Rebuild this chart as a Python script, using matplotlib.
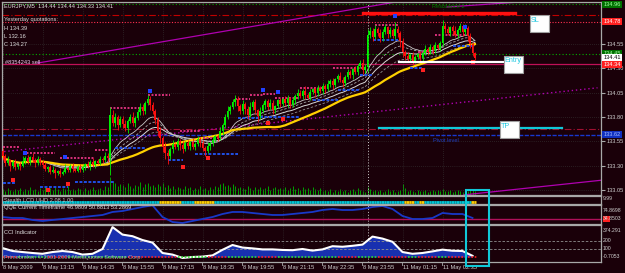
import matplotlib
matplotlib.use('Agg')
import matplotlib.pyplot as plt
import matplotlib.transforms as mtransforms
from matplotlib.patches import Rectangle
from matplotlib.lines import Line2D
import numpy as np
import pandas as pd

W, H = 625, 273
BG = '#1a0009'
BULL = '#00f000'
BEAR = '#ff1010'
FONT = 'Liberation Sans'
FS = 4.1

# EURJPY M5 closes, one per bar (8 May 2009 11:55 -> 11 May 02:45)
closes = [
    133.40, 133.33, 133.36, 133.30, 133.34, 133.29, 133.32, 133.30, 133.35, 133.38, 133.34, 133.39, 133.36, 133.33, 133.37, 133.34,
    133.31, 133.27, 133.29, 133.24, 133.26, 133.22, 133.25, 133.21, 133.24, 133.28, 133.26, 133.30, 133.27, 133.25, 133.29, 133.26,
    133.29, 133.32, 133.30, 133.34, 133.31, 133.35, 133.33, 133.37, 133.36, 133.40, 133.38, 133.82, 133.74, 133.80, 133.72, 133.78,
    133.73, 133.69, 133.76, 133.80, 133.74, 133.79, 133.85, 133.90, 133.86, 133.94, 133.98, 133.92, 133.86, 133.77, 133.66, 133.58,
    133.49, 133.43, 133.40, 133.47, 133.52, 133.49, 133.55, 133.51, 133.47, 133.53, 133.50, 133.54, 133.49, 133.52, 133.57, 133.53,
    133.48, 133.45, 133.50, 133.53, 133.56, 133.60, 133.58, 133.66, 133.72, 133.80, 133.86, 133.90, 133.95, 133.99, 133.91, 133.86,
    133.93, 133.88, 133.82, 133.90, 133.95, 133.87, 133.81, 133.86, 133.92, 133.96, 133.90, 133.94, 133.87, 133.91, 133.97, 133.93,
    133.98, 133.94, 134.00, 133.92, 133.97, 134.02, 134.05, 134.02, 134.07, 134.03, 134.00, 134.06, 134.09, 134.05, 134.10, 134.07,
    134.12, 134.09, 134.14, 134.17, 134.13, 134.19, 134.22, 134.18, 134.15, 134.21, 134.26, 134.23, 134.29, 134.26, 134.32, 134.35,
    134.28, 134.31, 134.64, 134.68, 134.62, 134.70, 134.66, 134.61, 134.67, 134.72, 134.65, 134.69, 134.63, 134.70, 134.66, 134.58,
    134.47, 134.43, 134.40, 134.44, 134.38, 134.42, 134.45, 134.41, 134.46, 134.50, 134.47, 134.52, 134.49, 134.54, 134.51, 134.56,
    134.74, 134.70, 134.66, 134.72, 134.68, 134.64, 134.69, 134.73, 134.67, 134.71, 134.63, 134.55, 134.46, 134.41,
]
first_open = 133.45

# wick lengths above / below the body, in pips
wick_up = [
    3, 2, 4, 1, 2, 3, 1, 2, 5, 2, 3, 1, 4, 2, 3, 2,
    2, 3, 1, 2, 4, 2, 1, 3, 2, 4, 1, 2, 3, 1, 2, 3,
    2, 1, 3, 2, 4, 1, 2, 3, 2, 4, 3, 8, 5, 4, 2, 3,
    3, 4, 2, 3, 5, 2, 3, 4, 3, 2, 5, 4, 3, 2, 3, 4,
    2, 5, 3, 2, 4, 1, 3, 2, 4, 2, 3, 1, 4, 2, 3, 2,
    3, 2, 4, 1, 3, 2, 3, 4, 2, 3, 5, 2, 3, 4, 3, 2,
    4, 2, 3, 5, 2, 3, 1, 4, 2, 3, 2, 4, 3, 1, 2, 3,
    2, 4, 3, 1, 3, 2, 4, 3, 2, 5, 2, 3, 1, 2, 3, 2,
    3, 2, 4, 2, 3, 1, 2, 4, 3, 2, 3, 2, 1, 3, 2, 4,
    5, 3, 6, 4, 3, 5, 2, 4, 3, 4, 2, 3, 2, 8, 3, 2,
    3, 2, 4, 2, 3, 2, 1, 3, 2, 4, 2, 3, 2, 3, 1, 2,
    6, 3, 4, 2, 3, 5, 2, 4, 3, 5, 2, 3, 2, 1,
]
wick_dn = [
    4, 3, 2, 5, 2, 3, 2, 4, 1, 3, 2, 3, 2, 4, 2, 3,
    3, 2, 4, 3, 2, 5, 2, 3, 1, 2, 3, 2, 4, 2, 1, 3,
    2, 3, 2, 4, 2, 3, 1, 2, 3, 2, 4, 18, 3, 4, 5, 2,
    4, 3, 5, 2, 3, 4, 2, 3, 4, 3, 2, 5, 3, 4, 6, 5,
    5, 6, 8, 3, 4, 2, 3, 5, 4, 2, 3, 4, 2, 3, 2, 4,
    3, 5, 2, 4, 3, 2, 3, 2, 4, 3, 2, 3, 2, 4, 5, 3,
    3, 5, 4, 2, 3, 4, 6, 3, 2, 4, 3, 2, 4, 3, 2, 3,
    2, 3, 4, 3, 2, 4, 3, 2, 3, 4, 2, 3, 2, 4, 3, 2,
    3, 4, 2, 3, 4, 2, 3, 2, 4, 3, 2, 3, 4, 2, 3, 2,
    4, 3, 5, 3, 4, 2, 3, 4, 3, 2, 4, 3, 2, 3, 4, 6,
    5, 4, 3, 2, 4, 3, 2, 3, 4, 2, 3, 2, 4, 3, 2, 3,
    3, 4, 2, 3, 4, 2, 3, 2, 4, 3, 5, 4, 3, 2,
]
volumes = [
    60, 45, 70, 55, 40, 65, 50, 75, 45, 60, 55, 80, 50, 65, 45, 70,
    55, 90, 60, 75, 50, 85, 65, 45, 70, 60, 95, 55, 65, 50, 75, 60,
    45, 70, 55, 60, 80, 50, 65, 75, 55, 90, 85, 180, 140, 120, 95, 110,
    100, 85, 120, 90, 75, 105, 95, 130, 80, 110, 125, 90, 100, 85, 115, 95,
    120, 80, 105, 70, 90, 65, 85, 75, 60, 95, 70, 80, 55, 75, 65, 90,
    60, 70, 55, 80, 65, 95, 85, 110, 120, 90, 105, 80, 115, 95, 70, 85,
    75, 60, 90, 70, 55, 80, 65, 85, 60, 75, 95, 55, 70, 80, 60, 75,
    65, 80, 55, 70, 90, 60, 75, 50, 85, 65, 70, 55, 80, 60, 50, 70,
    40, 55, 45, 60, 35, 50, 40, 65, 45, 55, 35, 50, 60, 45, 70, 55,
    40, 35, 80, 60, 45, 55, 40, 50, 35, 45, 60, 40, 50, 35, 45, 55,
    110, 70, 45, 55, 40, 35, 50, 45, 40, 55, 35, 45, 50, 40, 55, 45,
    60, 45, 40, 50, 35, 45, 55, 40, 35, 50, 45, 55, 60, 40,
]

time_labels = ['8 May 2009', '8 May 13:15', '8 May 14:35', '8 May 15:55', '8 May 17:15',
               '8 May 18:35', '8 May 19:55', '8 May 21:15', '8 May 22:35', '8 May 23:55',
               '11 May 01:15', '11 May 02:35']
price_ticks = [134.55, 134.30, 134.05, 133.80, 133.55, 133.30, 133.05]
day_sep_bar = 146

# period high / low levels: (first bar, last bar, price)
high_levels = [(0, 7, 133.49), (8, 21, 133.43), (23, 37, 133.38), (37, 42, 133.46),
               (43, 57, 133.89), (58, 67, 134.03), (71, 79, 133.66), (80, 88, 133.58),
               (93, 99, 133.99), (99, 104, 134.03), (104, 109, 134.04), (109, 118, 134.00),
               (119, 129, 134.10), (132, 144, 134.30), (149, 158, 134.75), (166, 172, 134.47),
               (173, 186, 134.64)]
low_levels = [(0, 5, 133.12), (15, 26, 133.08), (29, 45, 133.13), (45, 57, 133.48),
              (66, 72, 133.36), (77, 94, 133.42), (94, 103, 133.79), (103, 119, 133.80),
              (124, 134, 133.97), (134, 143, 134.08), (143, 148, 134.23), (148, 158, 134.59),
              (163, 168, 134.30), (180, 188, 134.53)]
up_fractal_bars = [9, 25, 59, 104, 110, 157, 185]
up_fractal_prices = [133.43, 133.39, 134.07, 134.08, 134.06, 134.84, 134.72]
dn_fractal_bars = [4, 18, 26, 72, 82, 106, 112, 168, 188]
dn_fractal_prices = [133.15, 133.05, 133.11, 133.29, 133.38, 133.74, 133.78, 134.28, 134.36]

# horizontal levels of the main window
res2 = 134.96
res1 = 134.85
yesterday_high_line = 134.78
green_level = 134.45
order_price = 134.34
s1_level = 133.68
pivot = 133.61

# Stealth LCD: bars where the line is yellow instead of cyan
stealth_yellow = [(63, 71), (77, 84), (161, 164), (167, 168), (188, 189)]

# QQE and CCI, read every 4th bar
qqe = [40.5, 37.7, 37.7, 32.0, 29.1, 32.0, 34.8, 37.7, 40.5, 43.4, 46.3, 54.9,
       57.7, 63.4, 69.1, 74.0, 40.5, 26.2, 23.4, 29.1, 34.8, 40.5, 49.1, 54.9,
       54.9, 52.0, 49.1, 46.3, 46.3, 49.1, 52.0, 54.9, 60.6, 63.4, 60.6, 60.6,
       63.4, 69.1, 72.0, 63.4, 43.4, 34.8, 34.8, 37.7, 52.0, 49.1, 49.1, 37.7]
qqe_level = 34.85
cci = [112, 75, 62, 50, 40, 62, 75, 62, 30, 40, 100, 374,
       280, 260, 212, 180, 50, 30, -12, 0, 5, 20, 90, 150,
       118, 108, 95, 95, 88, 85, 100, 80, 95, 135, 128, 140,
       155, 255, 230, 190, 62, 40, 50, 70, 92, 78, 75, 15]
cci_zero_colors = 'rrgggrrggggggrrrrrgggrrgggrrggggggrrggrrrgrrgrrr'

assert len(closes) == len(wick_up) == len(wick_dn) == len(volumes) == 190
assert len(qqe) == len(cci) == len(cci_zero_colors) == 48

plt.rcParams['font.family'] = [FONT, 'DejaVu Sans']


def px_rect(x0, y0, x1, y1):
    return [x0 / W, 1 - y1 / H, (x1 - x0) / W, (y1 - y0) / H]


def ftext(x, y, s, color='#e0e0e0', size=FS, **kw):
    fig.text(x / W, 1 - y / H, s, color=color, fontsize=size, va='center', ha='left', **kw)


def fbox(x0, y0, x1, y1, fc, ec='none', lw=0.8, z=5):
    fig.add_artist(Rectangle((x0 / W, 1 - y1 / H), (x1 - x0) / W, (y1 - y0) / H,
                             transform=fig.transFigure, fc=fc, ec=ec, lw=lw, zorder=z))


fig = plt.figure(figsize=(W / 100, H / 100), dpi=100, facecolor=BG)

vax = fig.add_axes(px_rect(2, 2, 601, 195))
ax = fig.add_axes(px_rect(2, 2, 601, 195))
ax_lcd = fig.add_axes(px_rect(2, 196, 601, 204), facecolor=BG)
ax_qqe = fig.add_axes(px_rect(2, 205, 601, 224), facecolor=BG)
ax_cci = fig.add_axes(px_rect(2, 225, 601, 262), facecolor=BG)
vax.set_facecolor(BG)
vax.set_zorder(0)
ax.set_zorder(1)
ax.patch.set_alpha(0)

label_bars = np.arange(len(time_labels)) * 16
for a in (vax, ax, ax_lcd, ax_qqe, ax_cci):
    a.set_xlim(-0.2, 239.4)
    a.set_xticks([])
    a.set_yticks([])
    for s in a.spines.values():
        s.set_color('#a8a8a8')
        s.set_linewidth(0.9)
    if a is not vax:
        a.vlines(label_bars, 0, 1, transform=a.get_xaxis_transform(), colors='#3a3a3a',
                 linestyles=(0, (1, 2)), lw=0.5, zorder=0)
        a.axvline(day_sep_bar, color='#d0d0d0', ls=(0, (1, 2)), lw=0.7, zorder=1)
vax.axis('off')

# ---- main window
ax.set_ylim(132.9986, 134.9815)
bars = np.arange(len(closes))
c = np.array(closes)
o = np.r_[first_open, c[:-1]]
hi = np.maximum(o, c) + np.array(wick_up) / 100
lo = np.minimum(o, c) - np.array(wick_dn) / 100
col = np.where(c >= o, BULL, BEAR)

vax.set_ylim(0, 1930)
vax.vlines(bars, 0, volumes, colors='#00a000', lw=0.7)

for p in price_ticks:
    ax.axhline(p, color='#3a3a3a', ls=(0, (1, 2)), lw=0.5, zorder=0)

ax.axhline(res2, color='#00a000', ls=(0, (1, 2)), lw=0.8, zorder=1)
ax.axhline(res1, color='#c00000', ls=(0, (6, 2, 1, 2)), lw=0.8, zorder=1)
ax.axhline(yesterday_high_line, color='#ff3050', ls=(0, (1, 1.5)), lw=0.8, zorder=1)
ax.axhline(green_level, color='#00b000', ls=(0, (1, 2)), lw=0.8, zorder=1)
ax.axhline(order_price, color='#c01058', lw=0.9, zorder=1)
ax.axhline(s1_level, color='#a01030', ls=(0, (6, 2, 1, 2)), lw=0.8, zorder=1)
ax.axhline(pivot, color='#1838d0', ls=(0, (3, 1)), lw=1.0, zorder=1)

# trend lines
ax.plot([-1, 238], [133.44, 134.10], color='#b000b0', ls=(0, (1, 2)), lw=1.0, zorder=1)
ax.plot([14.2, 157], [134.355, 134.98], color='#b000b0', lw=0.9, zorder=1)
ax.plot([177.8, 211.8], [134.93, 134.99], color='#b000b0', lw=0.9, zorder=1)
ax.plot([184.6, 239.4], [133.0, 133.15], color='#b000b0', lw=0.9, zorder=1)

# objects drawn on the chart
ax.plot([144, 204.8], [134.87, 134.87], color='#ff1010', lw=2.4, zorder=2)
ax.plot([158.4, 200.8], [134.36, 134.36], color='#ffffff', lw=1.6, zorder=6)
ax.plot([150.4, 223.6], [133.69, 133.69], color='#10c8d8', lw=1.6, zorder=2)

# moving averages
s = pd.Series(closes)
ax.plot(bars, s.ewm(span=40).mean(), color='#909090', ls=(0, (3, 2)), lw=0.6, zorder=3)
ax.plot(bars, s.ewm(span=30).mean(), color='#d8d8d8', lw=0.7, zorder=3)
ax.plot(bars, s.ewm(span=22).mean(), color='#a8a8a8', ls=(0, (3, 2)), lw=0.6, zorder=3)
ax.plot(bars, s.ewm(span=16).mean(), color='#c8c8c8', lw=0.6, zorder=3)
ax.plot(bars, s.rolling(50, min_periods=1).mean(), color='#ffd000', lw=1.6, zorder=3)

for b0, b1, p in high_levels:
    ax.plot([b0, b1], [p, p], color='#d8307a', ls=(0, (1, 0.8)), lw=1.4, zorder=4)
for b0, b1, p in low_levels:
    ax.plot([b0, b1], [p, p], color='#2050e8', ls=(0, (1.5, 0.8)), lw=1.4, zorder=4)

ax.vlines(bars, lo, hi, colors=col, lw=0.6, zorder=4)
ax.bar(bars, np.maximum(np.abs(c - o), 0.004), bottom=np.minimum(o, c), width=0.72,
       color=col, lw=0, zorder=4)

ax.scatter(up_fractal_bars, up_fractal_prices, marker='s', s=5, color='#2040ff', lw=0, zorder=5)
ax.scatter(dn_fractal_bars, dn_fractal_prices, marker='s', s=5, color='#ff2020', lw=0, zorder=5)

# right price scale
ax.yaxis.tick_right()
ax.set_yticks(price_ticks)
ax.set_yticklabels([f'{p:.2f}' for p in price_ticks])
ax.tick_params(axis='y', colors='#a8a8a8', labelcolor='#d0d0d0', labelsize=FS, length=3, pad=1)

tr = mtransforms.blended_transform_factory(ax.transAxes, ax.transData)
price_boxes = [(res2 - 0.005, '#007000', '#a0ffa0'), (yesterday_high_line, '#ff2020', '#ffffff'),
               (green_level, '#007000', '#a0ffa0'), (closes[-1], '#ffffff', '#000000'),
               (order_price, '#ff2020', '#ffffff'), (pivot + 0.01, '#1030c0', '#a0b8ff')]
for p, fc, tc in price_boxes:
    ax.text(1.004, p, f'{p:.2f}', transform=tr, fontsize=FS, color=tc, va='center', ha='left',
            clip_on=False, zorder=7,
            bbox=dict(boxstyle='square,pad=0.2', fc=fc, ec='none'))

# ---- Stealth LCD window
ax_lcd.set_ylim(0, 1)
lcd_cols = ['#00c8d8'] * len(closes)
for b0, b1 in stealth_yellow:
    for b in range(b0, b1 + 1):
        lcd_cols[b] = '#ffd000'
ax_lcd.hlines(np.full(len(bars), 0.3), bars - 0.5, bars + 0.5, colors=lcd_cols, lw=2.0)

# ---- QQE window
ind_bars = bars[::4]
ax_qqe.set_ylim(20.5, 74.87)
ax_qqe.axhline(qqe_level, color='#b0105a', lw=1.0)
ax_qqe.plot(ind_bars, qqe, color='#1838c8', lw=1.3)

# ---- CCI window
ax_cci.set_ylim(-62.5, 400)
ax_cci.axhline(200, color='#909090', ls=(0, (3, 2)), lw=0.6)
ax_cci.axhline(100, color='#909090', ls=(0, (3, 2)), lw=0.6)
ax_cci.fill_between(ind_bars, 0, cci, color='#1830b0', lw=0)
ax_cci.plot(ind_bars, cci, color='#ffffff', lw=1.5)
zero_cols = ['#30e030' if ch == 'g' else '#ff2020' for ch in cci_zero_colors]
ax_cci.hlines(np.zeros(len(ind_bars)), ind_bars - 2, ind_bars + 2, colors=zero_cols,
              linestyles=(0, (1, 1)), lw=1.2)

# ---- texts
ftext(4, 6, 'EURJPY,M5  134.44 134.44 134.33 134.41')
ftext(4, 20, 'Yesterday quotations:')
ftext(4, 28, 'H 134.39')
ftext(4, 36, 'L 132.16')
ftext(4, 44, 'C 134.27')
ftext(5, 62, '#8354243 sell', color='#f0c8f0')
ftext(432, 7, 'Resistance 2', color='#008000')
ftext(433, 140, 'Pivot level', color='#2040c0')

fbox(530, 15, 549, 32, '#ffffff', '#a0a0a0')
ftext(531, 20, 'SL', color='#20c8e0', size=5.2, zorder=6)
fbox(504, 56, 523, 73, '#ffffff', '#a0a0a0')
ftext(504, 61, 'Entry', color='#20c8e0', size=5.2, zorder=6)
fbox(500, 121, 519, 138, '#ffffff', '#a0a0a0')
ftext(501, 126, 'TP', color='#20c8e0', size=5.2, zorder=6)

ftext(4, 200, 'Stealth LCD UHD 2.08 1.00', color='#c8c8c8')
ftext(4, 208, 'QQE Current Timeframe 46.9809 50.8813 53.2869', color='#e0e0e0')
ftext(4, 232, 'CCI Indicator', color='#e0e0e0')
ftext(4, 257, 'Primebroker, \u00a9 2001-2009 MetaQuotes Software Corp.', color='#c0c0c0', alpha=0.8)

SM = 3.7
ftext(603, 199, '9.99', color='#d0d0d0', size=SM)
ftext(603, 211, '74.8698', color='#d0d0d0', size=SM)
fbox(603, 216, 610, 222, '#ff2020')
ftext(603, 219, '34.8503', color='#d0d0d0', size=SM, zorder=6)
ftext(603, 231, '374.291', color='#d0d0d0', size=SM)
ftext(603, 241, '200', color='#d0d0d0', size=SM)
ftext(603, 249, '100', color='#d0d0d0', size=SM)
ftext(603, 257, '-0.7053', color='#d0d0d0', size=SM)

for k, lab in enumerate(time_labels):
    x = 2 + 40 * k
    fig.add_artist(Line2D([x / W, x / W], [1 - 262 / H, 1 - 265 / H], color='#a8a8a8', lw=0.6))
    ftext(x + 1, 268, lab, color='#d0d0d0')

# cyan highlight box over the last bars
fbox(466, 190, 489, 266, 'none', '#10c8d8', lw=1.5, z=8)

fig.savefig('out.png', dpi=100, facecolor=BG)
